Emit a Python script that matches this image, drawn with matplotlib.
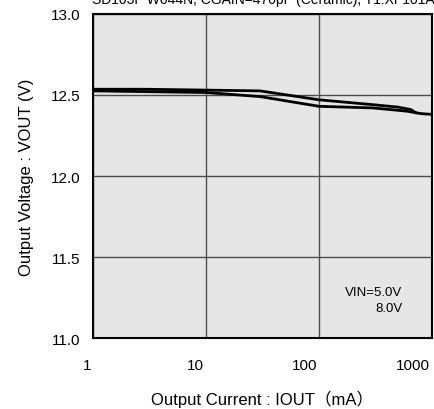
import matplotlib.pyplot as plt
from matplotlib.ticker import FixedLocator, NullLocator
from matplotlib.transforms import ScaledTranslation

plt.rcParams['font.family'] = ['Liberation Sans', 'Noto Sans CJK JP', 'DejaVu Sans']

# VIN = 5.0V
iout_5v = [1, 3, 30, 100, 300, 500, 650, 720]
vout_5v = [12.535, 12.535, 12.525, 12.47, 12.44, 12.425, 12.41, 12.39]

# VIN = 8.0V
iout_8v = [1, 10, 30, 100, 300, 600, 800, 1000]
vout_8v = [12.525, 12.515, 12.49, 12.43, 12.42, 12.40, 12.385, 12.38]

x_ticks = [1, 10, 100, 1000]
x_labels = ["1", "10", "100", "1000"]
y_ticks = [11.0, 11.5, 12.0, 12.5, 13.0]
y_labels = ["11.0", "11.5", "12.0", "12.5", "13.0"]

fig = plt.figure(figsize=(4.35, 4.1), dpi=100)
ax = fig.add_axes([0.214, 0.172, 0.779, 0.792])
ax.set_facecolor("#e6e6e6")

ax.plot(iout_5v, vout_5v, color="black", lw=2)
ax.plot(iout_8v, vout_8v, color="black", lw=2)

ax.set_xscale("log")
ax.set_xlim(1, 1000)
ax.set_ylim(11.0, 13.0)
ax.xaxis.set_major_locator(FixedLocator(x_ticks))
ax.xaxis.set_minor_locator(NullLocator())
ax.set_xticklabels(x_labels)
ax.set_yticks(y_ticks)
ax.set_yticklabels(y_labels)
ax.tick_params(length=0, labelsize=11)
ax.tick_params(axis="x", pad=14)
ax.tick_params(axis="y", pad=9)
# x tick labels sit just left of their gridline
shift = ScaledTranslation(-2 / 100, 0, fig.dpi_scale_trans)
for lab in ax.get_xticklabels():
    lab.set_horizontalalignment("right")
    lab.set_transform(lab.get_transform() + shift)
ax.grid(True, color="#4d4d4d", lw=1)
for s in ax.spines.values():
    s.set_linewidth(1.5)

ax.set_xlabel("Output Current : IOUT（mA）", fontsize=12, labelpad=13)
ax.set_ylabel("Output Voltage : VOUT (V)", fontsize=12, labelpad=12)

ax.text(0.912, 0.133, "VIN=5.0V", transform=ax.transAxes, ha="right", fontsize=9.5)
ax.text(0.912, 0.086, "8.0V", transform=ax.transAxes, ha="right", fontsize=9.5)

fig.text(0.212, 0.99, "SD103F W044N, CGAIN=470pF (Ceramic), T1:XF101A120",
         ha="left", va="baseline", fontsize=10)

fig.savefig("out.png", dpi=100)
